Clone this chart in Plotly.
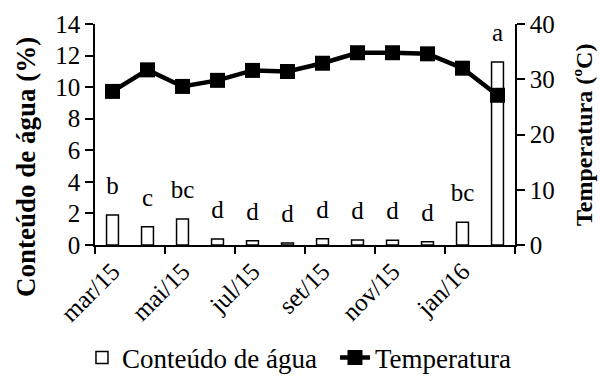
import plotly.graph_objects as go

months = ["mar/15", "abr/15", "mai/15", "jun/15", "jul/15", "ago/15",
          "set/15", "out/15", "nov/15", "dez/15", "jan/16", "fev/16"]
agua = [1.9, 1.16, 1.65, 0.38, 0.27, 0.13, 0.40, 0.32, 0.30, 0.21, 1.44, 11.6]
letras = ["b", "c", "bc", "d", "d", "d", "d", "d", "d", "d", "bc", "a"]
temperatura = [27.8, 31.7, 28.7, 29.8, 31.6, 31.4, 32.9, 34.8, 34.8, 34.6, 32.0, 27.1]
left_ticks = [0, 2, 4, 6, 8, 10, 12, 14]
right_ticks = [0, 10, 20, 30, 40]

idx = list(range(len(months)))
label_idx = idx[::2]
label_txt = months[::2]
boundaries = [i - 0.5 for i in range(0, len(months) + 1, 2)]

FONT = "Liberation Serif, Times New Roman, serif"
FS = 25

fig = go.Figure()
fig.add_trace(go.Bar(
    x=idx, y=agua, name="Conteúdo de água",
    marker=dict(color="white", line=dict(color="black", width=1.5)),
    width=0.34,
    yaxis="y", xaxis="x",
))
fig.add_trace(go.Scatter(
    x=idx, y=temperatura, name="Temperatura",
    mode="lines+markers",
    line=dict(color="black", width=4.5),
    marker=dict(symbol="square", size=15, color="black"),
    yaxis="y2", xaxis="x",
))
# significance letters above bars
fig.add_trace(go.Scatter(
    x=idx, y=agua, text=letras, mode="markers+text", textposition="top center",
    marker=dict(size=22, color="rgba(0,0,0,0)"),
    textfont=dict(family=FONT, size=FS, color="black"),
    showlegend=False, hoverinfo="skip", cliponaxis=False,
    yaxis="y", xaxis="x",
))
# invisible helper trace so the boundary tick axis is drawn
fig.add_trace(go.Scatter(
    x=boundaries, y=[0] * len(boundaries), xaxis="x2", yaxis="y",
    mode="markers", marker=dict(opacity=0), showlegend=False, hoverinfo="skip",
))

fig.update_layout(
    width=602, height=388,
    margin=dict(l=95, r=87, t=24, b=143, autoexpand=False),
    plot_bgcolor="white", paper_bgcolor="white",
    font=dict(family=FONT, size=FS, color="black"),
    showlegend=True,
    legend=dict(orientation="h", x=-0.031, xanchor="left", y=-0.40, yanchor="top",
                font=dict(family=FONT, size=27), itemwidth=30,
                entrywidth=208, entrywidthmode="pixels",
                tracegroupgap=0),
    xaxis=dict(
        range=[-0.5, len(months) - 0.5], automargin=False,
        tickmode="array", tickvals=label_idx, ticktext=label_txt,
        tickangle=-45, ticks="", showgrid=False, zeroline=False,
        showline=True, linecolor="black", linewidth=1.5,
        tickfont=dict(family=FONT, size=FS),
    ),
    xaxis2=dict(
        range=[-0.5, len(months) - 0.5], overlaying="x", anchor="y", side="bottom",
        automargin=False,
        tickmode="array", tickvals=boundaries, showticklabels=False,
        ticks="outside", ticklen=8, tickwidth=1.5, tickcolor="black",
        showgrid=False, zeroline=False, showline=False,
    ),
    yaxis=dict(
        range=[0, 14], tickmode="array", tickvals=left_ticks, automargin=False,
        ticks="outside", ticklen=8, tickwidth=1.5, tickcolor="black",
        showline=True, linecolor="black", linewidth=1.5,
        showgrid=False, zeroline=False,
        tickfont=dict(family=FONT, size=FS),
    ),
    yaxis2=dict(
        range=[0, 40], tickmode="array", tickvals=right_ticks, automargin=False,
        overlaying="y", side="right",
        ticks="outside", ticklen=8, tickwidth=1.5, tickcolor="black",
        showline=True, linecolor="black", linewidth=1.5,
        showgrid=False, zeroline=False,
        tickfont=dict(family=FONT, size=FS),
    ),
    annotations=[
        dict(text="<b>Conteúdo de água (%)</b>", textangle=-90, showarrow=False,
             xref="paper", yref="paper", x=-0.164, y=0.353,
             xanchor="center", yanchor="middle",
             font=dict(family=FONT, size=27, color="black")),
        dict(text="<b>Temperatura (ºC)</b>", textangle=-90, showarrow=False,
             xref="paper", yref="paper", x=1.163, y=0.5,
             xanchor="center", yanchor="middle",
             font=dict(family=FONT, size=24, color="black")),
    ],
)

fig.write_html("out.html")
